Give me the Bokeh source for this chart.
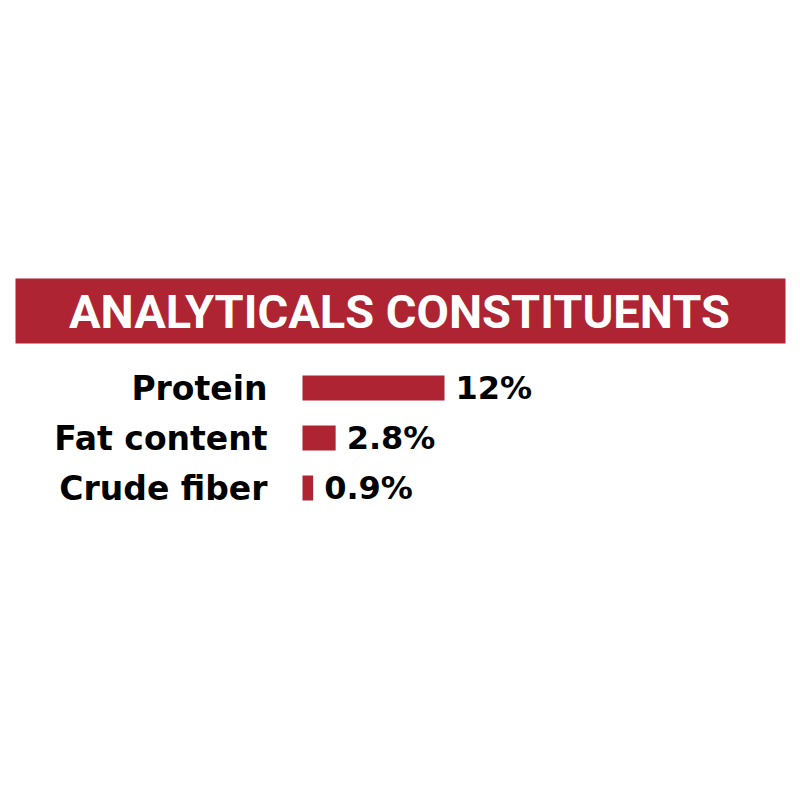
from bokeh.plotting import figure
from bokeh.models import Range1d
from bokeh.core.properties import value
from bokeh.embed import file_html
from bokeh.resources import INLINE

# Nutritional data
title = "ANALYTICALS CONSTITUENTS"
categories = ["Protein", "Fat content", "Crude fiber"]
values = [12, 2.8, 0.9]
value_labels = ["12%", "2.8%", "0.9%"]

RED = "#ae2432"
W, H = 800, 800
BAR_X0 = 302          # canvas x where the value axis starts
PX_PER_UNIT = 142 / 12

p = figure(width=W, height=H, output_backend="svg", toolbar_location=None,
           x_range=Range1d(-BAR_X0 / PX_PER_UNIT, (W - BAR_X0) / PX_PER_UNIT),
           y_range=Range1d(H, 0), min_border=0)
p.axis.visible = False
p.grid.visible = False
p.outline_line_color = None
p.background_fill_color = "white"
p.border_fill_color = "white"

# canvas-pixel range for the banner and the row labels
p.extra_x_ranges["px"] = Range1d(0, W)

# header banner
p.quad(left=[15], right=[785], top=[278], bottom=[343], fill_color=RED,
       line_color=None, x_range_name="px")
p.text(x=[399], y=[311], text=[title], x_range_name="px",
       text_font=value("Roboto"), text_font_style="bold", text_font_size="47px",
       text_color="white", text_align="center", text_baseline="middle")

# rows
row_mid = [387.5 + 50 * i for i in range(len(categories))]

p.hbar(y=row_mid, left=0, right=values, height=25, fill_color=RED, line_color=None)

p.text(x=[267] * len(categories), y=row_mid, text=categories, x_range_name="px",
       text_font=value("DejaVu Sans"), text_font_style="bold", text_font_size="33px",
       text_color="black", text_align="right", text_baseline="middle")

p.text(x=values, y=row_mid, text=value_labels, x_offset=11,
       text_font=value("DejaVu Sans"), text_font_style="bold", text_font_size="32px",
       text_color="black", text_align="left", text_baseline="middle")

open("out.html", "w").write(file_html(p, INLINE))
